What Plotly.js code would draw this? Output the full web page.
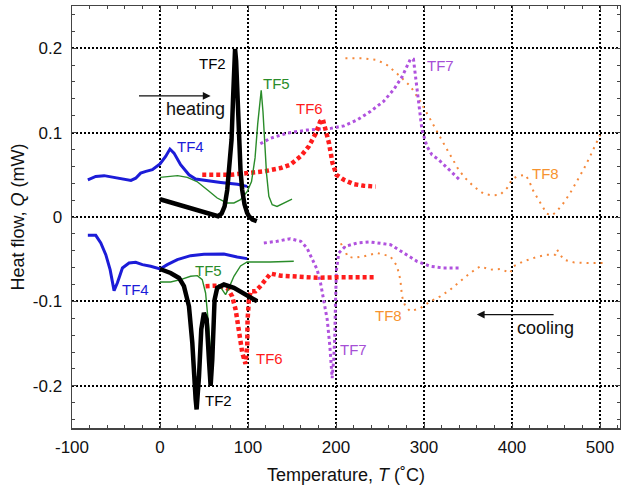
<!DOCTYPE html>
<html>
<head>
<meta charset="utf-8">
<script src="https://cdn.plot.ly/plotly-3.0.1.min.js"></script>
<style>html,body{margin:0;padding:0;background:#fff;}#chart{width:621px;height:489px;}</style>
</head>
<body>
<div id="chart"></div>
<script>
// ---- tick labels ----
const xTickVals = [-100, 0, 100, 200, 300, 400, 500];
const xTickText = ["-100", "0", "100", "200", "300", "400", "500"];
const yTickVals = [-0.2, -0.1, 0, 0.1, 0.2];
const yTickText = ["-0.2", "-0.1", "0", "0.1", "0.2"];

// ---- heating curves ----
const tf2HeatT = [0, 10, 20, 30, 40, 50, 60, 66, 70, 73.4, 76.4, 79, 81.3, 83, 84.5, 85.3, 86.5, 88, 89.6, 91.5, 93.4, 96, 99, 101, 105, 110];
const tf2HeatQ = [0.021, 0.018, 0.0145, 0.011, 0.008, 0.005, 0.002, 0.001, 0.004, 0.0126, 0.032, 0.06, 0.0915, 0.14, 0.185, 0.199, 0.185, 0.14, 0.0915, 0.055, 0.032, 0.015, 0.005, 0.001, -0.003, -0.005];

const tf4HeatT = [-82, -73, -63.5, -52, -41, -33, -27.6, -22, -16, -8.7, 0, 6.4, 11.3, 15.9, 23.4, 32.9, 40.5, 50, 69, 88, 99];
const tf4HeatQ = [0.044, 0.048, 0.049, 0.047, 0.045, 0.0434, 0.046, 0.052, 0.054, 0.056, 0.063, 0.0718, 0.0805, 0.0757, 0.062, 0.050, 0.045, 0.0434, 0.041, 0.0387, 0.0363];

const tf5HeatT = [0, 12, 20, 31, 42, 54, 65, 76, 84, 91.5, 99, 104, 108, 111, 113, 115, 117, 118.5, 121, 123.7, 127.5, 133, 141, 150];
const tf5HeatQ = [0.047, 0.048, 0.049, 0.047, 0.042, 0.032, 0.0225, 0.0166, 0.0166, 0.0205, 0.030, 0.042, 0.07, 0.11, 0.135, 0.15, 0.125, 0.1, 0.052, 0.0245, 0.0146, 0.0126, 0.0166, 0.0213];

const tf6HeatT = [48, 60, 80, 99, 118, 137, 148, 160, 169, 177, 182, 185, 188, 192, 196, 200.5, 209, 220, 231.5, 245];
const tf6HeatQ = [0.050, 0.050, 0.050, 0.052, 0.054, 0.058, 0.062, 0.072, 0.0836, 0.099, 0.113, 0.116, 0.105, 0.0876, 0.064, 0.050, 0.044, 0.039, 0.037, 0.036];

const tf7HeatT = [114, 126, 144.5, 167, 194, 209, 224, 239, 254, 265.6, 275, 280.7, 284.5, 288, 291, 294, 297.7, 303.4, 309, 316.6, 324, 333.6, 340.4];
const tf7HeatQ = [0.0868, 0.0935, 0.0994, 0.103, 0.105, 0.108, 0.115, 0.125, 0.137, 0.151, 0.166, 0.178, 0.187, 0.187, 0.16, 0.131, 0.103, 0.0836, 0.0738, 0.0679, 0.0607, 0.052, 0.0442];

const tf8HeatT = [210.7, 231.5, 246.6, 258, 269.3, 284.5, 295.8, 301.5, 309, 318.5, 324.2, 331.8, 339.3, 346.9, 356.3, 367.7, 377.1, 386.6, 394.4, 399.8, 405.5, 415, 418.8, 424.4, 432, 439.5, 445.3, 450.9, 458.6, 466.1, 473.6, 481.1, 488.7, 496.3, 500];
const tf8HeatQ = [0.188, 0.188, 0.186, 0.180, 0.170, 0.155, 0.137, 0.126, 0.113, 0.0935, 0.0836, 0.0698, 0.056, 0.046, 0.0363, 0.0276, 0.0256, 0.0264, 0.0343, 0.0442, 0.0481, 0.050, 0.0442, 0.0304, 0.0166, 0.0039, 0.002, 0.0067, 0.0166, 0.0284, 0.0422, 0.056, 0.0718, 0.0876, 0.097];

// ---- cooling curves ----
const tf2CoolT = [0, 12, 21.6, 27.2, 32.9, 36.7, 40.5, 41.6, 44.3, 46.9, 49.9, 53, 55.6, 57.5, 59.4, 62, 65, 72.6, 84, 95.3, 110.4];
const tf2CoolQ = [-0.0616, -0.0663, -0.0722, -0.082, -0.1058, -0.149, -0.216, -0.228, -0.189, -0.133, -0.1137, -0.1215, -0.169, -0.2, -0.169, -0.098, -0.084, -0.080, -0.084, -0.0908, -0.0998];

const tf4CoolT = [-82, -73, -67.3, -61.6, -56.7, -52.2, -48.4, -42.7, -35.2, -27.6, -20, -10.6, 0, 8.3, 19.7, 34.8, 49.9, 72.6, 87.7, 99];
const tf4CoolQ = [-0.0217, -0.0217, -0.0308, -0.0446, -0.0624, -0.0872, -0.078, -0.0604, -0.0545, -0.0537, -0.0564, -0.0584, -0.0616, -0.0564, -0.0505, -0.0458, -0.0442, -0.0438, -0.0474, -0.0493];

const tf5CoolT = [0, 12, 23.4, 34.8, 42.4, 48, 51.8, 55.6, 58.6, 60.5, 63.2, 66.9, 70.7, 74.5, 78.3, 84, 91.5, 99, 125, 152];
const tf5CoolQ = [-0.077, -0.077, -0.0742, -0.0702, -0.0695, -0.0742, -0.090, -0.133, -0.177, -0.133, -0.094, -0.080, -0.086, -0.092, -0.084, -0.0702, -0.058, -0.0533, -0.0533, -0.0525];

const tf6CoolT = [51.8, 65, 76.4, 82, 86, 89.7, 93.5, 97.2, 99.1, 99.5, 101, 103, 108.5, 114, 120, 125.6, 137, 156, 179, 201, 224, 243];
const tf6CoolQ = [-0.082, -0.0813, -0.084, -0.094, -0.110, -0.137, -0.161, -0.174, -0.153, -0.122, -0.098, -0.088, -0.088, -0.082, -0.0742, -0.067, -0.0695, -0.071, -0.072, -0.0714, -0.0714, -0.0714];

const tf7CoolT = [118, 133, 148, 160, 167, 173, 178.6, 182.4, 186, 190, 193, 194.4, 195.6, 197.4, 198.6, 199.4, 200.5, 203.2, 210.7, 224, 239, 262, 277, 292, 307, 322, 341];
const tf7CoolQ = [-0.0308, -0.0288, -0.0257, -0.0288, -0.0367, -0.0505, -0.0624, -0.078, -0.098, -0.1215, -0.153, -0.173, -0.191, -0.169, -0.141, -0.1018, -0.0624, -0.0426, -0.0347, -0.0308, -0.0296, -0.0328, -0.0426, -0.0525, -0.0584, -0.0604, -0.0604];

const tf8CoolT = [205, 208.8, 212.6, 220.2, 231.5, 246.6, 261.8, 269.3, 273.1, 275, 278.8, 284.5, 295.8, 307.1, 318.5, 329.9, 341.2, 352.6, 363.9, 375.2, 386.6, 397.9, 401.8, 413.1, 428.2, 439.5, 449.2, 451.1, 458.6, 469.8, 485, 505.7];
const tf8CoolQ = [-0.0328, -0.0308, -0.0466, -0.0485, -0.0466, -0.0426, -0.0466, -0.058, -0.0742, -0.094, -0.106, -0.1117, -0.108, -0.1, -0.094, -0.086, -0.076, -0.0663, -0.0584, -0.0624, -0.0616, -0.0663, -0.0584, -0.0525, -0.0474, -0.0446, -0.0446, -0.0387, -0.0505, -0.0537, -0.0545, -0.0545];

// ---- labels ----
const labelText = ["TF2", "TF4", "TF5", "TF6", "TF7", "TF8", "TF2", "TF4", "TF5", "TF6", "TF7", "TF8"];
const labelT = [59.4, 34.8, 132.4, 170.2, 318.5, 437.6, 67, -27.6, 55.6, 124.8, 219.4, 259.8];
const labelQ = [0.182, 0.083, 0.1586, 0.129, 0.180, 0.052, -0.218, -0.086, -0.063, -0.168, -0.157, -0.117];

const C = {TF2: "#000000", TF4: "#1c1cd8", TF5: "#2a8c2a", TF6: "#ff1c1c", TF7: "#b052de", TF8: "#f5883a"};
const labelColor = {TF2: "#000000", TF4: "#1c1cd8", TF5: "#2a8c2a", TF6: "#ff1c1c", TF7: "#a64fd6", TF8: "#f7932f"};

const styles = {
  TF2: {color: C.TF2, width: 4.5, dash: "solid"},
  TF4: {color: C.TF4, width: 3, dash: "solid"},
  TF5: {color: C.TF5, width: 1.4, dash: "solid"},
  TF6: {color: C.TF6, width: 4.5, dash: "4px,3px"},
  TF7: {color: C.TF7, width: 3, dash: "3px,3px"},
  TF8: {color: C.TF8, width: 2, dash: "2px,5px"}
};

function tr(name, x, y) {
  return {x: x, y: y, mode: "lines", type: "scatter", name: name, line: styles[name], showlegend: false, hoverinfo: "skip"};
}

const traces = [
  tr("TF8", tf8HeatT, tf8HeatQ), tr("TF8", tf8CoolT, tf8CoolQ),
  tr("TF7", tf7HeatT, tf7HeatQ), tr("TF7", tf7CoolT, tf7CoolQ),
  tr("TF6", tf6HeatT, tf6HeatQ), tr("TF6", tf6CoolT, tf6CoolQ),
  tr("TF5", tf5HeatT, tf5HeatQ), tr("TF5", tf5CoolT, tf5CoolQ),
  tr("TF4", tf4HeatT, tf4HeatQ), tr("TF4", tf4CoolT, tf4CoolQ),
  tr("TF2", tf2HeatT, tf2HeatQ), tr("TF2", tf2CoolT, tf2CoolQ)
];

const FONT = "Liberation Sans, Arial, Helvetica, sans-serif";

const annotations = labelText.map((t, i) => ({
  x: labelT[i], y: labelQ[i], xref: "x", yref: "y", text: t, showarrow: false,
  xanchor: "center", yanchor: "middle", font: {family: FONT, size: 15, color: labelColor[t]}
}));
annotations.push(
  {x: 40.5, y: 0.128, xref: "x", yref: "y", text: "heating", showarrow: false, xanchor: "center", yanchor: "middle", font: {family: FONT, size: 18, color: "#111"}},
  {x: 437.6, y: -0.131, xref: "x", yref: "y", text: "cooling", showarrow: false, xanchor: "center", yanchor: "middle", font: {family: FONT, size: 18, color: "#111"}},
  {x: 57.5, y: 0.1435, xref: "x", yref: "y", ax: -25.6, ay: 0.1435, axref: "x", ayref: "y", text: "", showarrow: true, arrowhead: 2, arrowsize: 1.3, arrowwidth: 1.2, arrowcolor: "#111"},
  {x: 360, y: -0.1156, xref: "x", yref: "y", ax: 449, ay: -0.1156, axref: "x", ayref: "y", text: "", showarrow: true, arrowhead: 2, arrowsize: 1.3, arrowwidth: 1.2, arrowcolor: "#111"}
);

const axisCommon = {
  showline: true, linecolor: "#444", linewidth: 1.5, mirror: "allticks",
  ticks: "inside", ticklen: 5, tickcolor: "#444", tickwidth: 1,
  showgrid: true, gridcolor: "#000", gridwidth: 2, griddash: "2px,2px",
  zeroline: false, tickmode: "array",
  tickfont: {family: FONT, size: 17, color: "#111"}
};

const layout = {
  width: 621, height: 489,
  margin: {l: 72, r: 1, t: 6, b: 61},
  paper_bgcolor: "#fff", plot_bgcolor: "#fff",
  font: {family: FONT, color: "#111"},
  xaxis: Object.assign({}, axisCommon, {
    range: [-100, 522.7], tickvals: xTickVals, ticktext: xTickText,
    minor: {dtick: 20, tick0: 0, ticks: "inside", ticklen: 3, tickcolor: "#444", showgrid: false},
    ticklabelstandoff: 3,
    title: {text: "Temperature, <i>T</i> (˚C)", font: {family: FONT, size: 18, color: "#111"}, standoff: 12}
  }),
  yaxis: Object.assign({}, axisCommon, {
    range: [-0.25, 0.25], tickvals: yTickVals, ticktext: yTickText,
    minor: {dtick: 0.02, tick0: 0, ticks: "inside", ticklen: 3, tickcolor: "#444", showgrid: false},
    ticklabelstandoff: 5,
    title: {text: "Heat flow, <i>Q</i> (mW)", font: {family: FONT, size: 18, color: "#111"}, standoff: 3}
  }),
  annotations: annotations,
  showlegend: false
};

Plotly.newPlot("chart", traces, layout, {staticPlot: true, displayModeBar: false});
</script>
</body>
</html>
